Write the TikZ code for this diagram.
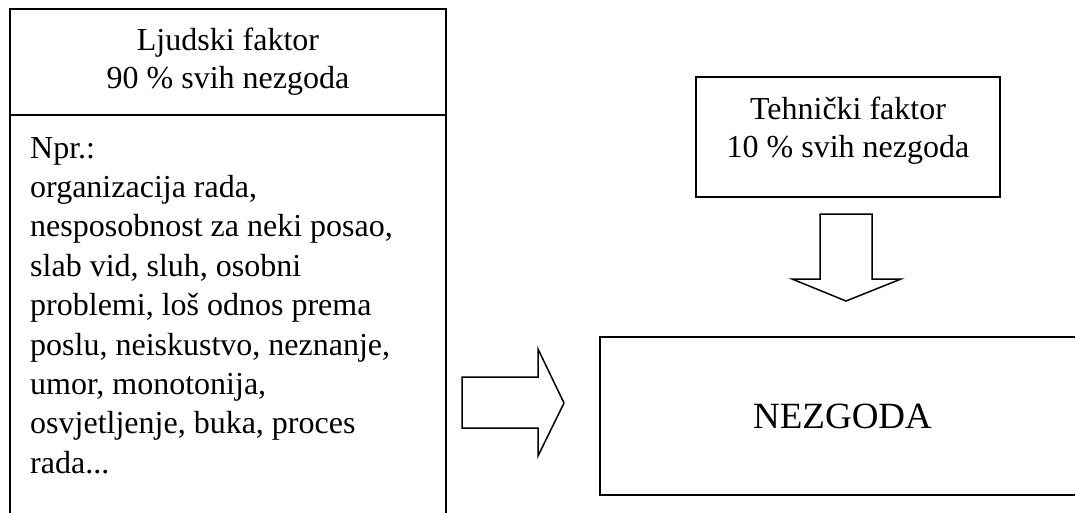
\documentclass[tikz,border=0pt]{standalone}
\usepackage{fontspec}
\setmainfont{Liberation Serif}
\usepackage{tikz}
\usetikzlibrary{positioning}

\begin{document}
\begin{tikzpicture}[x=1pt, y=-1pt,
			okvir/.style={draw=black, line width=1.5pt, rectangle, inner sep=0pt, outer sep=0pt},
			tekst/.style={font=\fontsize{32}{38}\selectfont, inner sep=0pt, align=center},
			strelica/.style={draw=black, line width=1.5pt, line join=miter}]
			\useasboundingbox (0,0) rectangle (1075,512);
			% ljudski faktor, lijevi stupac
			\node[okvir, tekst, minimum width=436pt, minimum height=106pt] (ljudski) at (228,62) {Ljudski faktor\\90 \% svih nezgoda};
			\node[okvir, minimum width=436pt, minimum height=460pt, anchor=north west] (primjeri) at (ljudski.south west) {};
			\foreach \red [count=\i from 0] in {{Npr.:}, {organizacija rada,}, {nesposobnost za neki posao,}, {slab vid, sluh, osobni}, {problemi, loš odnos prema}, {poslu, neiskustvo, neznanje,}, {umor, monotonija,}, {osvjetljenje, buka, proces}, {rada.{}.{}.}}
				\node[tekst, anchor=base west] (red\i) at (30,158+39.4*\i) {\red};
			% tehnicki faktor
			\node[okvir, minimum width=304pt, minimum height=120pt] (tehnicki) at (848,137) {};
			\node[tekst] (tehnickiTekst) at (848,130.5) {Tehnički faktor\\10 \% svih nezgoda};
			% nezgoda
			\node[okvir, font=\fontsize{37}{44}\selectfont, minimum width=485pt, minimum height=158pt] (nezgoda) at (842.5,416) {NEZGODA};
			% strelice
			\draw[strelica] (462,377) -- (538,377) -- (538,349) -- (564,403) -- (538,456) -- (538,428) -- (462,428) -- cycle;
			\draw[strelica] (820,214) -- (872,214) -- (872,279) -- (901,279) -- (846,301) -- (792,279) -- (820,279) -- cycle;
		\end{tikzpicture}
\end{document}
